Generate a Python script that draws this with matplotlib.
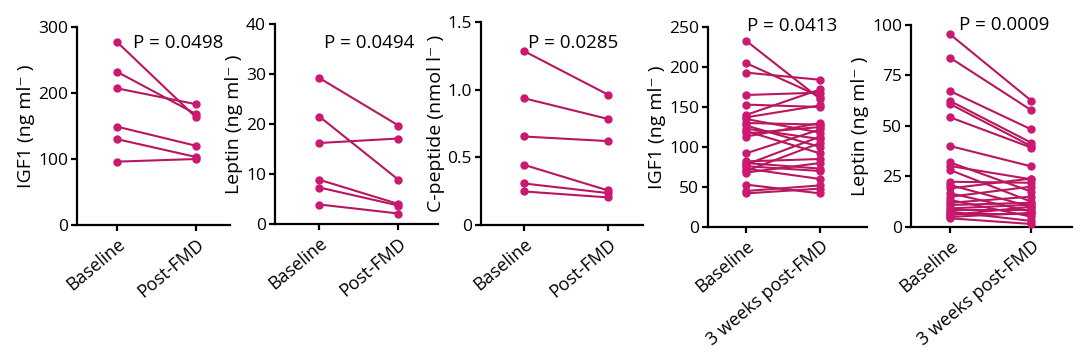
import matplotlib
matplotlib.use("Agg")
import matplotlib.pyplot as plt
import numpy as np

plt.rcParams['font.family'] = ['Open Sans', 'DejaVu Sans']

# ---------------- data ----------------
categories_a = ["Baseline", "Post-FMD"]
categories_b = ["Baseline", "3 weeks post-FMD"]

igf1_a_base = [277, 232, 207, 149, 130, 96]
igf1_a_post = [163, 168, 183, 120, 103, 100]

leptin_a_base = [29.2, 21.5, 16.2, 8.85, 7.3, 3.9]
leptin_a_post = [19.7, 8.85, 17.1, 4.0, 3.7, 2.1]

cpep_base = [1.286, 0.937, 0.654, 0.445, 0.307, 0.248]
cpep_post = [0.964, 0.784, 0.620, 0.256, 0.236, 0.204]

igf1_b_base = [233, 205, 193, 165, 153, 140, 137, 135, 130, 127, 123, 120, 117,
               113, 92, 82, 80, 78, 76, 73, 70, 68, 53, 45, 42]
igf1_b_post = [160, 163, 184, 168, 150, 172, 152, 118, 128, 100, 110, 92, 125,
               130, 122, 85, 73, 113, 70, 60, 105, 80, 42, 52, 48]

leptin_b_base = [95.4, 83.8, 67.3, 62.4, 60.9, 54.3, 40.1, 32.0, 30.2, 28.2, 22.4,
                 20.8, 19.1, 16.7, 15.0, 13.4, 12.0, 10.9, 9.2, 8.5, 7.6, 6.5, 5.9,
                 5.0, 4.3]
leptin_b_post = [62.5, 57.8, 48.3, 41.7, 40.0, 39.3, 30.0, 17.5, 23.6, 12.5, 21.9,
                 10.0, 24.0, 7.6, 20.0, 5.1, 15.0, 12.0, 11.0, 8.5, 3.0, 6.5, 10.0,
                 7.0, 1.5]

ylabels = ["IGF1 (ng ml\u207b )", "Leptin (ng ml\u207b )", "C-peptide (nmol l\u207b )",
           "IGF1 (ng ml\u207b )", "Leptin (ng ml\u207b )"]
pvals = ["P = 0.0498", "P = 0.0494", "P = 0.0285", "P = 0.0413", "P = 0.0009"]
yticks_list = [[0, 100, 200, 300], [0, 10, 20, 30, 40], [0, 0.5, 1.0, 1.5],
               [0, 50, 100, 150, 200, 250], [0, 25, 50, 75, 100]]
ytick_labels = [["0", "100", "200", "300"], ["0", "10", "20", "30", "40"],
                ["0", "0.5", "1.0", "1.5"], ["0", "50", "100", "150", "200", "250"],
                ["0", "25", "50", "75", "100"]]

panels = [
    (igf1_a_base, igf1_a_post, categories_a),
    (leptin_a_base, leptin_a_post, categories_a),
    (cpep_base, cpep_post, categories_a),
    (igf1_b_base, igf1_b_post, categories_b),
    (leptin_b_base, leptin_b_post, categories_b),
]

# axes rectangles in pixels : left, bottom, right, top
W, H = 1080, 356
rects_px = [(77, 225, 230, 27), (275, 224, 438, 24), (481, 225, 643, 22),
            (708, 227, 867, 27), (911, 227, 1072, 25)]
ptext_pos = [(0.66, 0.92), (0.58, 0.905), (0.57, 0.897), (0.53, 1.005), (0.58, 1.0)]
xlims = [(-0.51, 1.43), (-0.56, 1.5), (-0.51, 1.42), (-0.51, 1.63), (-0.48, 1.5)]

line_color = "#B8175F"
marker_color = "#CC1870"

fig = plt.figure(figsize=(W / 100, H / 100), dpi=100)

for i, (base, post, cats) in enumerate(panels):
    l, b, r, t = rects_px[i]
    ax = fig.add_axes([l / W, 1 - b / H, (r - l) / W, (b - t) / H])
    for v0, v1 in zip(base, post):
        ax.plot([0, 1], [v0, v1], color=line_color, lw=1.5, marker='o',
                markersize=5, markerfacecolor=marker_color,
                markeredgecolor=marker_color, clip_on=False, zorder=3)
    yt = yticks_list[i]
    ax.set_ylim(yt[0], yt[-1])
    ax.set_yticks(yt)
    ax.set_yticklabels(ytick_labels[i], fontsize=12.5)
    ax.set_xlim(*xlims[i])
    ax.set_xticks([0, 1])
    ax.set_xticklabels(cats, fontsize=13, rotation=40, ha='right',
                       va='top', rotation_mode='anchor')
    ax.set_ylabel(ylabels[i], fontsize=14, labelpad=2)
    for s in ['top', 'right']:
        ax.spines[s].set_visible(False)
    for s in ['left', 'bottom']:
        ax.spines[s].set_linewidth(1.6)
    ax.tick_params(axis='both', width=1.6, length=4.5, pad=2)
    ax.tick_params(axis='x', pad=3)
    ax.text(ptext_pos[i][0], ptext_pos[i][1], pvals[i], transform=ax.transAxes,
            ha='center', va='center', fontsize=13.5, clip_on=False)

fig.savefig("out.png", dpi=100)
